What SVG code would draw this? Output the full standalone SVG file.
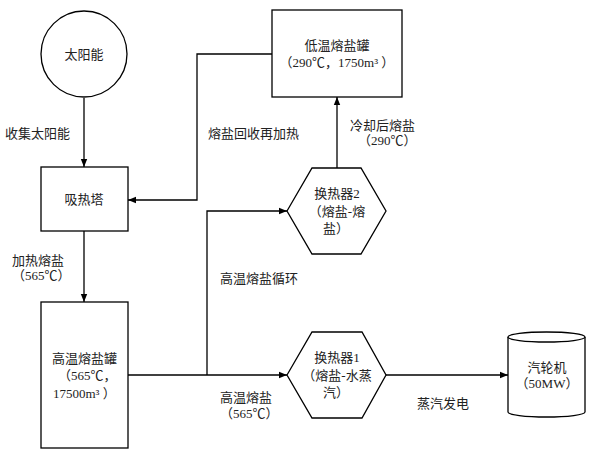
<svg xmlns="http://www.w3.org/2000/svg" width="591" height="455" viewBox="0 0 591 455">
<style>
.s{fill:none;stroke:#000;stroke-width:1.3}
.n{fill:#fff;stroke:#000;stroke-width:1.3}
text{font-family:"Liberation Serif","Noto Sans CJK SC",serif;font-size:13px;fill:#222}
.c{text-anchor:middle}
</style>
<defs>
<marker id="a" viewBox="0 0 10 10" refX="10" refY="5" markerWidth="8" markerHeight="8" orient="auto" markerUnits="userSpaceOnUse">
<path d="M0,1 L10,5 L0,9 Z" fill="#000"/>
</marker>
</defs>
<rect width="591" height="455" fill="#fff"/>
<g id="connectors">
<line class="s" x1="84" y1="98" x2="84" y2="167" marker-end="url(#a)"/>
<line class="s" x1="84" y1="231" x2="84" y2="302" marker-end="url(#a)"/>
<polyline class="s" points="272,54 197,54 197,200 128,200" marker-end="url(#a)"/>
<polyline class="s" points="128,375 287,375" marker-end="url(#a)"/>
<polyline class="s" points="207,375 207,211 287,211" marker-end="url(#a)"/>
<line class="s" x1="337" y1="168" x2="337" y2="97" marker-end="url(#a)"/>
<line class="s" x1="386" y1="375" x2="508" y2="375" marker-end="url(#a)"/>
</g>
<g id="solar">
<circle class="n" cx="84" cy="54" r="43"/>
<text class="c" x="84" y="59">太阳能</text>
</g>
<g id="tower">
<rect class="n" x="41" y="167" width="87" height="64"/>
<text class="c" x="84" y="204">吸热塔</text>
</g>
<g id="hot-tank">
<rect class="n" x="41" y="302" width="87" height="146"/>
<text x="52" y="363">高温熔盐罐</text>
<text x="58" y="380">（565℃，</text>
<text x="53" y="398">17500m³ ）</text>
</g>
<g id="cold-tank">
<rect class="n" x="272" y="10" width="130" height="87"/>
<text class="c" x="337" y="50">低温熔盐罐</text>
<text class="c" x="337" y="67">（290℃，1750m³ ）</text>
</g>
<g id="hx2">
<polygon class="n" points="287,211 312,168 361,168 386,211 361,254 312,254"/>
<text class="c" x="337" y="198">换热器2</text>
<text class="c" x="337" y="216">（熔盐-熔</text>
<text x="323" y="233">盐）</text>
</g>
<g id="hx1">
<polygon class="n" points="287,375 312,332 362,332 386,375 362,418 312,418"/>
<text class="c" x="337" y="362">换热器1</text>
<text class="c" x="337" y="380">（熔盐-水蒸</text>
<text x="323" y="397">汽）</text>
</g>
<g id="turbine">
<path class="n" d="M508,337 L508,412 A38.5,5 0 0 0 585,412 L585,337"/>
<ellipse class="n" cx="546.5" cy="337" rx="38.5" ry="5"/>
<text class="c" x="547" y="372">汽轮机</text>
<text class="c" x="547" y="388">（50MW）</text>
</g>
<g id="labels">
<text x="5" y="138">收集太阳能</text>
<text x="208" y="138">熔盐回收再加热</text>
<text x="12" y="265">加热熔盐</text>
<text x="12" y="280">（565℃）</text>
<text x="220" y="283">高温熔盐循环</text>
<text x="220" y="402">高温熔盐</text>
<text x="220" y="418">（565℃）</text>
<text x="350" y="130">冷却后熔盐</text>
<text x="358" y="145">（290℃）</text>
<text x="417" y="408">蒸汽发电</text>
</g>
</svg>
